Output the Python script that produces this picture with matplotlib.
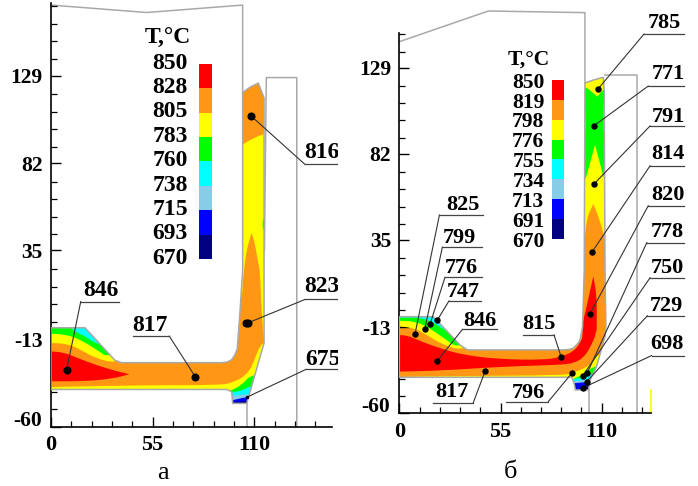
import numpy as np
import matplotlib
matplotlib.use('Agg')
import matplotlib.pyplot as plt
from matplotlib.patches import Polygon, PathPatch
from matplotlib.path import Path

plt.rcParams['font.family'] = ['Liberation Serif', 'DejaVu Serif']

band_colors = ['#ff0000', '#ff9614', '#ffff00', '#00ff00', '#00ffff', '#87cde8', '#0000ff', '#000080']
RED, ORANGE, YELLOW, GREEN, CYAN, SKY, BLUE, NAVY = band_colors

y_ticks = [129, 82, 35, -13, -60]
y_minor = np.arange(-60, 169, 9.43)
x_ticks = [0, 55, 110]

# ---- panel a
a_legend = ['850', '828', '805', '783', '760', '738', '715', '693', '670']
a_outline = [(0, -6.6), (18.4, -6.6), (34.6, -24.1), (38.2, -25.4), (92.4, -25.4), (95.5, -25), (97.8, -23.8), (99.6, -21),
             (100.8, -17.9), (102.2, 1), (103.7, 24), (103.7, 92), (103.7, 120), (108, 123), (112.2, 125), (115.3, 117),
             (115.3, 35), (115.3, -14.8), (105.9, -47.3), (98.3, -47.3), (97.8, -41), (95, -39.8), (0, -39.8)]
a_top = [(0, 167), (51.8, 163), (103.7, 167), (103.7, 120)]
a_die = [(115.5, 35), (116.5, 128), (133, 128), (133, -60)]
a_stem = [(106, -47.3), (106, -60)]
# a point written twice stays a sharp corner when the outline is smoothed
a_layers = [
    (YELLOW, [(-1, -14.8), (-1, -14.8), (9.4, -15.2), (16.6, -18.8), (24.7, -23.2), (34.6, -25.5), (40, -22), (40, 0), (-1, 0), (-1, 0)]),
    (GREEN, [(-1, -9.8), (-1, -9.8), (8.5, -10.2), (17.5, -13.8), (26.5, -19.6), (30.1, -22), (40, -20), (40, 0), (-1, 0), (-1, 0)]),
    (CYAN, [(11, -6), (11, -6), (11.2, -7.7), (17.5, -10.7), (25, -15.5), (32, -17), (32, 0), (11, 0), (11, 0)]),
    (RED, [(-1, -19.3), (-1, -19.3), (6.7, -19.8), (13.9, -22.7), (24.7, -26.8), (35.5, -30), (42.4, -31.6), (42.4, -31.6), (33.7, -33.9),
           (19.3, -35.4), (-1, -35.4), (-1, -35.4)]),
    (YELLOW, [(-1, -38.5), (-1, -38.5), (51.8, -37.5), (90.5, -37.5), (98.7, -36.2), (106.8, -31.2), (110.4, -23.2), (113.1, -16),
              (116.7, -14), (116.7, -14), (116.7, -62), (116.7, -62), (-1, -62), (-1, -62)]),
    (YELLOW, [(103, 91.5), (103, 91.5), (108.6, 95), (116, 98), (116, 98), (116, -15), (116, -15), (115.3, -14.8), (114, 1), (113.1, 24), (112.2, 28),
              (110.5, 38), (108.6, 44.4), (108.6, 44.4), (106.5, 38), (105, 29.6), (104, 20), (103.4, 10), (103, 10), (103, 10)]),
    (GREEN, [(114.5, 52), (116, 52), (116, 46), (114.5, 46)]),
    (GREEN, [(97, -40.5), (97, -40.5), (103.2, -37.5), (108, -32), (116, -32), (116, -62), (116, -62), (97, -62), (97, -62)]),
    (CYAN, [(97, -41.6), (97, -41.6), (104, -40.2), (107.3, -38), (116, -38), (116, -62), (116, -62), (97, -62), (97, -62)]),
    (SKY, [(97, -43.4), (97, -43.4), (106.8, -42.3), (116, -42), (116, -62), (116, -62), (97, -62), (97, -62)]),
    (BLUE, [(97, -45.9), (97, -45.9), (105.9, -43.8), (116, -43), (116, -62), (116, -62), (97, -62), (97, -62)]),
    (NAVY, [(97, -46.8), (97, -46.8), (105.5, -45.9), (116, -45), (116, -62), (116, -62), (97, -62), (97, -62)]),
]
a_labels = ['846', '817', '823', '675', '816']
a_dot_x = [8.5, 78.1, 106.8, 105.9, 108.4]
a_dot_y = [-29.1, -33, -3.9, -44, 107.2]
a_dot_ms = [4.8, 4.8, 4.8, 1.5, 4.8]
a_extra_x = [105.3]
a_extra_y = [-3.9]
a_line_x0 = [16.1, 44.2, 137.4, 138, 137.4]
a_line_x1 = [36.8, 64, 156.4, 156.4, 156.4]
a_line_y = [7.5, -11.1, 8.6, -29, 81.3]
a_text_x = [27, 53.6, 146.5, 147.4, 146.5]
a_text_y = [13.4, -5.4, 15.5, -23.8, 87.6]

# ---- panel b
b_legend = ['850', '819', '798', '776', '755', '734', '713', '691', '670']
b_outline = [(0, -7.1), (18.5, -7.1), (33, -22.6), (37, -25.3), (89.1, -25.3), (92.5, -25), (94.6, -24.4), (97, -21.8), (98.2, -19.9), (99.6, -12.6),
             (100.5, 18.4), (100.9, 120.8), (105.4, 122.4), (110.9, 123.9), (111.4, 115.3), (111.8, 18.5), (112.3, -12.6),
             (111.8, -18), (107.2, -34.5), (103.3, -42.7), (102.9, -47.2), (95.7, -47.2), (94.9, -43.2), (93.7, -40.3),
             (0, -40.3)]
b_top = [(0, 143.4), (48.4, 160.2), (100.9, 159.3), (100.9, 120.8)]
b_die = [(111.8, 125), (129.3, 125), (129.3, -60)]
b_stem = [(103.3, -47.2), (103.3, -60)]
b_mark_x = [136.6, 136.6]
b_mark_y = [-60, -47]
b_layers = [
    (YELLOW, [(-1, -12.2), (-1, -12.2), (8.5, -13.5), (14.9, -17.1), (23.9, -22.6), (33, -25.3), (40, -22), (40, 0), (-1, 0), (-1, 0)]),
    (GREEN, [(-1, -9.3), (-1, -9.3), (9.4, -9.8), (16.7, -13.5), (25.7, -19.9), (31.2, -23.9), (40, -20), (40, 0), (-1, 0), (-1, 0)]),
    (CYAN, [(-1, -7.6), (-1, -7.6), (11.2, -7.6), (17.6, -9.8), (23, -13.5), (32, -18), (32, 0), (-1, 0), (-1, 0)]),
    (YELLOW, [(99, 10), (99, 10), (113, 10), (113, 10), (113, 130), (113, 130), (99, 130), (99, 130)]),
    (GREEN, [(99, 119), (99, 119), (101.8, 118.4), (107.6, 113.3), (107.6, 113.3), (111.4, 117.9), (113, 118), (113, 118), (113, 66), (113, 66), (111.4, 67.7), (109, 77),
             (106.4, 86.9), (106.4, 86.9), (103.6, 76.8), (100.9, 66.8), (99, 66), (99, 66)]),
    (CYAN, [(99, 108), (99, 108), (101.5, 106), (101.5, 92), (99, 88), (99, 88)]),
    (CYAN, [(110.6, 110), (113, 110), (113, 110), (113, 90), (113, 90), (111, 90)]),
    (ORANGE, [(105.4, 54.6), (105.4, 54.6), (109, 45.8), (111.8, 34.9), (113, 20), (113, 0), (113, 0), (99, 0), (99, 0), (99.8, 20), (100.5, 30), (101.5, 45.8)]),
    (RED, [(105.4, 14.8), (105.4, 14.8), (101.8, -1.7), (99.1, -12.6), (100, -17.1), (98.2, -21.7), (94.6, -26.3), (87.3, -29.3),
           (78.3, -30.8), (54.7, -30.4), (34.8, -28.1), (22.1, -24.4), (12.1, -20.8), (4.9, -17.5), (-1, -17.1), (-1, -17.1),
           (-1, -37.2), (-1, -37.2), (23.9, -36.6), (54.7, -34.5), (87.3, -33.5), (94.6, -32.6), (100, -29.7), (103.6, -24.3),
           (107.3, -16), (107.3, -8.9), (107.3, 2), (106.4, 10.2)]),
    (YELLOW, [(-1, -40.2), (-1, -40.2), (25.7, -39.6), (90.9, -39.2), (93.7, -37.8), (100, -35.8), (104.6, -32.6), (107.3, -28.1),
              (113, -26), (113, -26), (113, -62), (113, -62), (-1, -62), (-1, -62)]),
    (GREEN, [(94, -41.5), (94, -41.5), (97.3, -40), (100.9, -38.1), (105.1, -34.5), (113, -33), (113, -62), (113, -62), (94, -62), (94, -62)]),
    (CYAN, [(94, -41.4), (94, -41.4), (100.9, -40.3), (104, -38.5), (113, -38), (113, -62), (113, -62), (94, -62), (94, -62)]),
    (SKY, [(94, -42.7), (94, -42.7), (100, -41.7), (104, -41), (113, -40), (113, -62), (113, -62), (94, -62), (94, -62)]),
    (BLUE, [(94, -43.6), (94, -43.6), (104, -42.7), (113, -42), (113, -62), (113, -62), (94, -62), (94, -62)]),
    (NAVY, [(99.5, -47.5), (99.5, -47.5), (99.5, -45), (99.5, -45), (104, -44), (104, -44), (104, -47.5), (104, -47.5)]),
]
b_labels = ['825', '799', '776', '747', '846', '815', '817', '796', '698', '729', '750', '778', '820', '814', '791', '771', '785']
b_dot_x = [8.5, 13.9, 16.7, 20.7, 20.7, 87.9, 46.6, 93.7, 100, 101.8, 99.7, 102.2, 103.6, 104.9, 105.8, 105.8, 107.8]
b_dot_y = [-16.8, -13.6, -11.3, -8.9, -31.2, -29, -37, -38.1, -46, -42.7, -39.4, -37.8, -5.6, 28.5, 65.5, 97.4, 117.3]
b_dot_ms = [3.6] * 17
b_extra_x = []
b_extra_y = []
b_line_x0 = [21.8, 23.4, 24.8, 27, 34.4, 67.4, 18.1, 58, 137.1, 134.8, 136.3, 134.5, 135.3, 136.3, 136.3, 135.3, 133]
b_line_x1 = [45.7, 45.1, 44.8, 44.4, 52.9, 84.1, 40.2, 81, 154.7, 154.7, 154.7, 154.7, 154.9, 154.9, 154.9, 154.9, 154.9]
b_line_y = [48.5, 30.9, 14.4, 1.5, -14, -17.1, -54.2, -53.6, -28.4, -6.6, 14.2, 33.4, 53.6, 75.5, 97.3, 119.1, 147.6]
b_text_x = [34.4, 32.6, 33.5, 34.8, 43.8, 75.9, 28.4, 70.1, 145.7, 145.3, 145.7, 145.7, 146.2, 146.2, 146.2, 146.2, 144]
b_text_y = [54, 36.1, 19.4, 6.6, -9.3, -11.3, -48.1, -48.7, -22, -1.3, 19.4, 39.4, 59.5, 81.9, 102.3, 125.7, 153.8]

W, H = 698, 486
fig = plt.figure(figsize=(W / 100, H / 100), dpi=100)


def axes_px(left, right, top, bottom):
    return fig.add_axes([left / W, 1 - bottom / H, (right - left) / W, (bottom - top) / H])


def smooth_path(pts):
    # quadratic curves through the midpoints, the given points are the controls
    pts = np.array(pts, dtype=float)
    mids = (pts + np.roll(pts, -1, axis=0)) / 2
    verts = [mids[-1]]
    codes = [Path.MOVETO]
    for i in range(len(pts)):
        verts += [pts[i], mids[i]]
        codes += [Path.CURVE3, Path.CURVE3]
    return Path(verts, codes)


def draw_panel(ax, xlim, ylim, xend, yend, outline, top, die, stem, layers, labels, dot_x, dot_y, dot_ms, x0, x1, ly, tx, ty,
               fs, legend, bar_x, bar_y, leg_x, leg_y, leg_fs, title_x, title_y, caption, cap_x, cap_y):
    ax.set_xlim(xlim)
    ax.set_ylim(ylim)
    ax.patch.set_alpha(0)
    for s in ['top', 'right']:
        ax.spines[s].set_visible(False)
    ax.spines['bottom'].set_bounds(0, xend)
    ax.spines['left'].set_bounds(-60, yend)
    ax.spines['bottom'].set_linewidth(1.2)
    ax.spines['left'].set_linewidth(1.2)

    ax.set_xticks(x_ticks)
    ax.set_xticklabels([str(v) for v in x_ticks], fontsize=16, fontweight='bold')
    ax.set_yticks(y_ticks)
    ax.set_yticklabels([str(v) if v != -60 else '' for v in y_ticks], fontsize=15.5, fontweight='bold')
    ax.annotate('-60', (0, -60), xytext=(-6.5, 4.5), textcoords='offset points', ha='right', va='center',
                fontsize=15.5, fontweight='bold', annotation_clip=False)
    ax.set_xticks([v for v in np.arange(11, xend, 11) if v not in x_ticks], minor=True)
    ax.set_yticks([v for v in y_minor if v < yend and min(abs(v - t) for t in y_ticks) > 3], minor=True)
    ax.tick_params(which='major', direction='in', length=7, width=1, pad=6)
    ax.tick_params(which='minor', direction='in', length=4, width=0.9)

    body = Polygon(outline, closed=True, facecolor=ORANGE, edgecolor='none', zorder=1)
    ax.add_patch(body)
    for color, pts in layers:
        p = PathPatch(smooth_path(pts), facecolor=color, edgecolor='none', zorder=2)
        ax.add_patch(p)
        p.set_clip_path(body)
    ax.add_patch(Polygon(outline, closed=True, fill=False, edgecolor='#a9a9a9', lw=1.1, zorder=3))
    for line in [top, die, stem]:
        xs, ys = zip(*line)
        ax.plot(xs, ys, color='#a9a9a9', lw=1.1, zorder=1.5, clip_on=False)

    # legend bar, first colour at the top
    edges = np.linspace(bar_y[1], bar_y[0], len(band_colors) + 1)
    for i, c in enumerate(band_colors):
        ax.bar(bar_x[0], edges[i + 1] - edges[i], width=bar_x[1] - bar_x[0], bottom=edges[i], align='edge', color=c, zorder=2)
    for lab, yy in zip(legend, np.linspace(leg_y[0], leg_y[1], len(legend))):
        ax.text(leg_x, yy, lab, ha='right', va='center', fontsize=leg_fs, fontweight='bold')
    ax.text(title_x, title_y, 'T,°C', ha='center', va='center', fontsize=leg_fs, fontweight='bold')

    # leader lines
    for i in range(len(labels)):
        elbow = x0[i] if abs(x0[i] - dot_x[i]) < abs(x1[i] - dot_x[i]) else x1[i]
        ax.plot([dot_x[i], elbow], [dot_y[i], ly[i]], color='#333333', lw=0.8, zorder=4, clip_on=True)
        ax.plot([x0[i], x1[i]], [ly[i], ly[i]], color='#444444', lw=0.9, zorder=4, clip_on=True)
        ax.plot(dot_x[i], dot_y[i], 'o', color='black', ms=dot_ms[i], zorder=5)
        ax.text(tx[i], ty[i], labels[i], ha='center', va='center', fontsize=fs, fontweight='bold', clip_on=True, zorder=5)

    ax.text(cap_x, cap_y, caption, ha='center', va='center', fontsize=19, clip_on=False)


ax1 = axes_px(51, 338, 0, 427)
draw_panel(ax1, (0, 287 / 1.848), (-60, 129 + 76 / 1.866), 152, 168, a_outline, a_top, a_die, a_stem, a_layers,
           a_labels, a_dot_x, a_dot_y, a_dot_ms, a_line_x0, a_line_x1, a_line_y, a_text_x, a_text_y, 17,
           a_legend, (80.2, 87.1), (30.4, 135.4), 74.1, (135.8, 30.8), 17, 63.1, 149.2, 'а', 60.4, -84.7)
ax1.plot(a_extra_x, a_extra_y, 'o', color='black', ms=4.8, zorder=5)

ax2 = axes_px(399.3, 698, 0, 413.3)
draw_panel(ax2, (0, 298.7 / 1.84), (-60, 129 + 68 / 1.827), 137, 148, b_outline, b_top, b_die, b_stem, b_layers,
           b_labels, b_dot_x, b_dot_y, b_dot_ms, b_line_x0, b_line_x1, b_line_y, b_text_x, b_text_y, 16,
           b_legend, (83, 89.5), (35.6, 122.4), 78.8, (121, 33.9), 15.5, 70.1, 133.8, 'б', 60.2, -92)
ax2.plot(b_mark_x, b_mark_y, color=YELLOW, lw=1.2, zorder=1)

fig.savefig('out.png', dpi=100)
